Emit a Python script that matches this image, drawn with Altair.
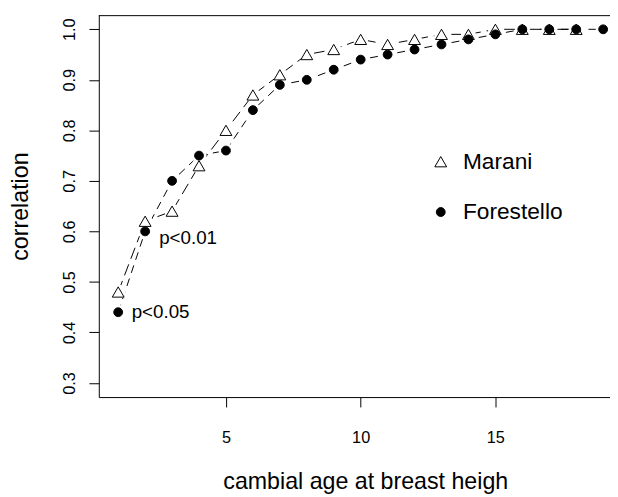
import altair as alt
import pandas as pd

# ---- data ----
ages = list(range(1, 20))
marani = [0.48, 0.62, 0.64, 0.73, 0.80, 0.87, 0.91, 0.95, 0.96, 0.98,
          0.97, 0.98, 0.99, 0.99, 1.00, 1.00, 1.00, 1.00]
forestello = [0.44, 0.60, 0.70, 0.75, 0.76, 0.84, 0.89, 0.90, 0.92, 0.94,
              0.95, 0.96, 0.97, 0.98, 0.99, 1.00, 1.00, 1.00, 1.00]
series_names = ["Marani", "Forestello"]
x_ticks = [5, 10, 15]
y_ticks = [0.3, 0.4, 0.5, 0.6, 0.7, 0.8, 0.9, 1.0]
note_labels = ["p<0.01", "p<0.05"]
note_x = [2.52, 1.5]
note_y = [0.587, 0.44]

rows = []
for a, v in zip(ages, marani):
    rows.append({"age": a, "r": v, "series": "Marani"})
for a, v in zip(ages, forestello):
    rows.append({"age": a, "r": v, "series": "Forestello"})
df = pd.DataFrame(rows)
notes = pd.DataFrame({"label": note_labels, "age": note_x, "r": note_y})

FONT = "Liberation Sans"
W, H = 518, 387
XDOM = [0.28, 0.28 + W / 27.3]
YDOM = [0.272, 1.028]

xs = alt.Scale(domain=XDOM, nice=False, zero=False)
ys = alt.Scale(domain=YDOM, nice=False, zero=False)

x_axis = alt.Axis(values=x_ticks, format="d", title="cambial age at breast heigh",
                  titleX=270, titleY=93, titleAlign="center", titleBaseline="alphabetic",
                  labelBaseline="alphabetic", labelPadding=36, labelAlign="center")
y_axis = alt.Axis(values=y_ticks, format=".1f", title="correlation",
                  titleX=-72, titleY=H / 2, titleAngle=270, titleAlign="center",
                  titleBaseline="alphabetic",
                  labelAngle=270, labelAlign="center", labelBaseline="alphabetic",
                  labelPadding=15)


def legend():
    return alt.Legend(orient="none", legendX=335, legendY=137, title=None,
                      labelFont=FONT, labelFontSize=23, labelColor="black",
                      labelOffset=11, rowPadding=27, padding=0,
                      symbolStrokeColor="black", symbolStrokeWidth=1)


base = alt.Chart(df)

line_m = base.transform_filter(alt.datum.series == "Marani").mark_line(
    color="black", strokeWidth=1, strokeDash=[12, 6]).encode(
    x=alt.X("age:Q", scale=xs, axis=x_axis),
    y=alt.Y("r:Q", scale=ys, axis=y_axis),
)
line_f = base.transform_filter(alt.datum.series == "Forestello").mark_line(
    color="black", strokeWidth=1, strokeDash=[8, 6]).encode(
    x=alt.X("age:Q", scale=xs),
    y=alt.Y("r:Q", scale=ys),
)

halos = base.mark_point(filled=True, shape="circle", size=230, color="white", opacity=1).encode(
    x=alt.X("age:Q", scale=xs),
    y=alt.Y("r:Q", scale=ys),
)

points = base.mark_point(filled=True, strokeWidth=1, opacity=1).encode(
    x=alt.X("age:Q", scale=xs),
    y=alt.Y("r:Q", scale=ys),
    shape=alt.Shape("series:N", scale=alt.Scale(domain=series_names, range=["triangle-up", "circle"]),
                    legend=legend()),
    fill=alt.Fill("series:N", scale=alt.Scale(domain=series_names, range=["white", "black"]),
                  legend=legend()),
    stroke=alt.Stroke("series:N", scale=alt.Scale(domain=series_names, range=["black", "black"]),
                      legend=legend()),
    size=alt.Size("series:N", scale=alt.Scale(domain=series_names, range=[144, 80]),
                  legend=legend()),
)

text = alt.Chart(notes).mark_text(align="left", baseline="middle", font=FONT,
                                   fontSize=19, color="black").encode(
    x=alt.X("age:Q", scale=xs),
    y=alt.Y("r:Q", scale=ys),
    text="label:N",
)

top_line = alt.Chart(pd.DataFrame({"k": [0]})).mark_rule(color="black", strokeWidth=1).encode(
    x=alt.value(0), x2=alt.value(W + 5), y=alt.value(0.5)
)

chart = alt.layer(line_m, line_f, halos, points, text, top_line).properties(
    width=W, height=H,
    background="white",
    autosize=alt.AutoSizeParams(type="none"),
    padding={"left": 92, "top": 4, "right": 0, "bottom": 98},
).configure_view(stroke=None).configure_axis(
    grid=False, domainColor="black", domainWidth=1, tickColor="black", tickWidth=1,
    tickSize=10, labelFont=FONT, labelFontSize=16.5, labelColor="black",
    titleFont=FONT, titleFontSize=23.5, titleColor="black", titleFontWeight="normal",
)

chart.save("out.html", embed_options={"renderer": "svg", "actions": False})
